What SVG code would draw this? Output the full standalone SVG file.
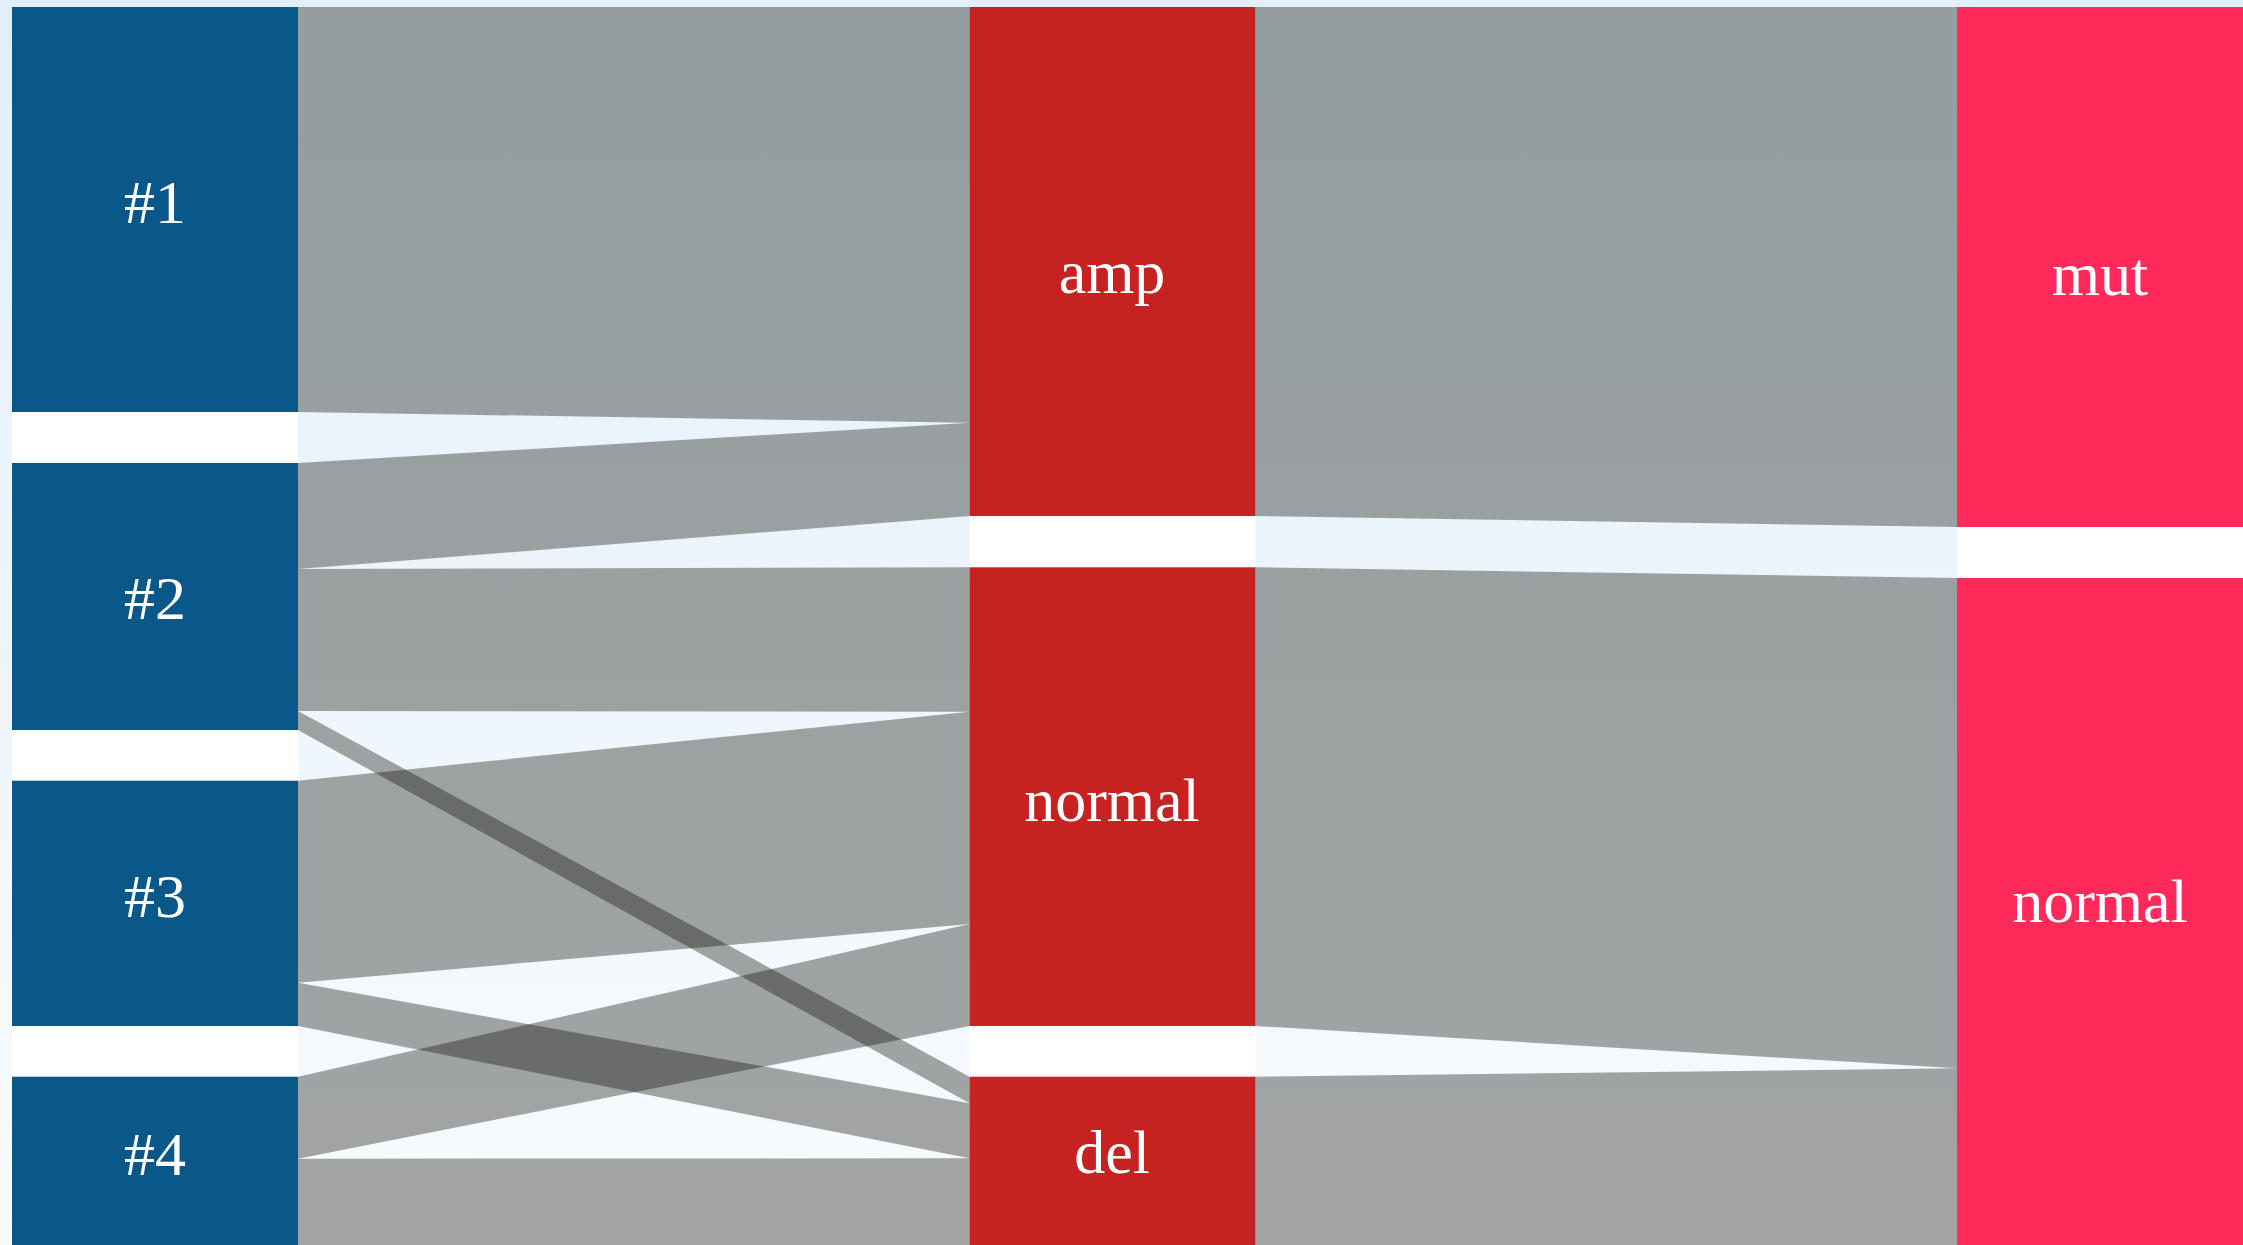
<svg xmlns="http://www.w3.org/2000/svg" width="2243" height="1245" viewBox="0 0 2243 1245">
  <defs>
    <linearGradient id="bg" x1="0" y1="0" x2="0" y2="1">
      <stop offset="0" stop-color="#e1eff9"/>
      <stop offset="1" stop-color="#f8fbfe"/>
    </linearGradient>
    <style>
      .col { fill: #ffffff; }
      .src { fill: #0a5789; }
      .mid { fill: #c62221; }
      .dst { fill: #ff2a5a; }
      .flow { fill: #0a0a02; fill-opacity: 0.36; }
      .lbl { fill: #ffffff; font-family: "Liberation Serif", "DejaVu Serif", serif; font-size: 62px; text-anchor: middle; }
    </style>
  </defs>

  <rect x="0" y="0" width="2243" height="1245" fill="url(#bg)"/>

  <g id="column-backgrounds">
    <rect class="col" x="12" y="7" width="286" height="1238"/>
    <rect class="col" x="969.5" y="7" width="286" height="1238"/>
    <rect class="col" x="1957" y="7" width="286" height="1238"/>
  </g>

  <g id="connectors">
    <polygon class="flow" points="298,7 969.5,7 969.5,422.7 298,412"/>
    <polygon class="flow" points="298,463 969.5,422.7 969.5,516 298,569"/>
    <polygon class="flow" points="298,569 969.5,567.3 969.5,711.7 298,711"/>
    <polygon class="flow" points="298,711 969.5,1076.7 969.5,1103.3 298,730"/>
    <polygon class="flow" points="298,780.7 969.5,711.7 969.5,924 298,982.7"/>
    <polygon class="flow" points="298,982.7 969.5,1103.3 969.5,1158.3 298,1026"/>
    <polygon class="flow" points="298,1076.7 969.5,924 969.5,1026 298,1158.7"/>
    <polygon class="flow" points="298,1158.7 969.5,1158.3 969.5,1245 298,1245"/>
    <polygon class="flow" points="1255.5,7 1957,7 1957,527 1255.5,516"/>
    <polygon class="flow" points="1255.5,567.3 1957,578 1957,1068.3 1255.5,1026"/>
    <polygon class="flow" points="1255.5,1076.7 1957,1068.3 1957,1245 1255.5,1245"/>
  </g>

  <g id="node-1">
    <rect class="src" x="12" y="7" width="286" height="405"/>
    <text class="lbl" x="155" y="223">#1</text>
  </g>
  <g id="node-2">
    <rect class="src" x="12" y="463" width="286" height="267"/>
    <text class="lbl" x="155" y="619">#2</text>
  </g>
  <g id="node-3">
    <rect class="src" x="12" y="780.7" width="286" height="245.3"/>
    <text class="lbl" x="155" y="917">#3</text>
  </g>
  <g id="node-4">
    <rect class="src" x="12" y="1076.7" width="286" height="168.3"/>
    <text class="lbl" x="155" y="1175">#4</text>
  </g>

  <g id="node-amp">
    <rect class="mid" x="969.5" y="7" width="286" height="509"/>
    <text class="lbl" x="1112" y="293">amp</text>
  </g>
  <g id="node-normal-mid">
    <rect class="mid" x="969.5" y="567.3" width="286" height="458.7"/>
    <text class="lbl" x="1112" y="821">normal</text>
  </g>
  <g id="node-del">
    <rect class="mid" x="969.5" y="1076.7" width="286" height="168.3"/>
    <text class="lbl" x="1112" y="1173">del</text>
  </g>

  <g id="node-mut">
    <rect class="dst" x="1957" y="7" width="286" height="520"/>
    <text class="lbl" x="2100" y="295">mut</text>
  </g>
  <g id="node-normal-right">
    <rect class="dst" x="1957" y="578" width="286" height="667"/>
    <text class="lbl" x="2100" y="922">normal</text>
  </g>
</svg>
